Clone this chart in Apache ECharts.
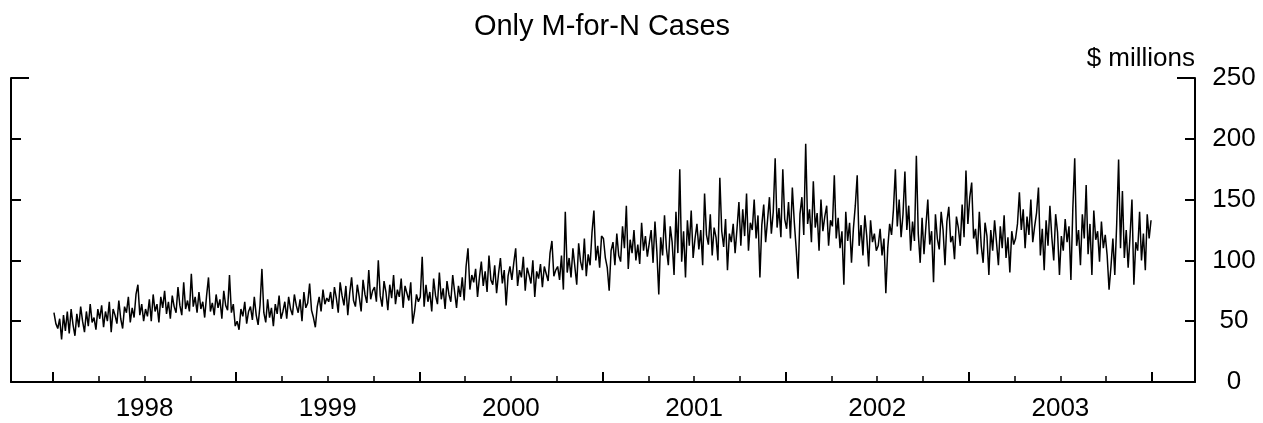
<!DOCTYPE html>
<html>
<head>
<meta charset="utf-8">
<script src="https://cdn.jsdelivr.net/npm/echarts@6/dist/echarts.min.js"></script>
<style>
    html, body { margin: 0; padding: 0; background: #fff; }
    #main { width: 1263px; height: 423px; }
</style>
</head>
<body>
<div id="main"></div>
<script>
// values, 8 per month (24 per quarter)
const v1998 = [
    57, 48, 44, 52, 35, 55, 42, 58, 40, 60, 47, 38, 56, 45, 62, 50, 41, 58, 46, 64, 49, 53, 43, 60,
    52, 63, 45, 58, 50, 66, 41, 60, 55, 48, 67, 52, 44, 62, 57, 70, 49, 61, 53, 72, 80, 55, 64, 50,
    60, 54, 68, 50, 72, 58, 64, 49, 70, 61, 75, 56, 66, 52, 71, 62, 57, 78, 63, 55, 82, 60, 67, 58,
    89, 62, 70, 57, 74, 60, 66, 53, 71, 86, 58, 65, 55, 72, 61, 68, 52, 75, 63, 59, 88, 57, 64, 46
]
const v1999 = [
    50, 43, 60, 54, 66, 48, 58, 62, 51, 70, 55, 47, 63, 93, 57, 49, 68, 53, 61, 46, 64, 56, 71, 52,
    58, 66, 52, 70, 60, 55, 72, 63, 57, 68, 50, 74, 61, 65, 81, 59, 53, 45, 62, 70, 58, 76, 64, 69,
    66, 74, 60, 78, 69, 57, 82, 71, 63, 79, 55, 73, 86, 67, 62, 80, 70, 58, 84, 72, 65, 92, 68, 75,
    78, 66, 100, 71, 62, 83, 74, 59, 80, 69, 88, 64, 76, 70, 85, 61, 79, 73, 67, 82, 48, 58, 72, 66
]
const v2000 = [
    70, 103, 62, 80, 66, 74, 58, 85, 71, 64, 90, 68, 77, 60, 83, 72, 66, 88, 74, 61, 79, 70, 86, 67,
    95, 110, 76, 88, 82, 93, 70, 86, 99, 79, 91, 74, 104, 84, 80, 96, 73, 89, 102, 81, 92, 63, 87, 95,
    84, 98, 110, 79, 92, 86, 103, 75, 94, 88, 81, 100, 70, 91, 85, 97, 78, 95, 89, 83, 106, 116, 87, 92,
    95, 84, 104, 76, 140, 90, 102, 86, 110, 95, 80, 114, 99, 92, 118, 87, 105, 96, 123, 141, 100, 112, 94, 120
]
const v2001 = [
    118, 102, 94, 75, 108, 115, 96, 122, 104, 99, 128, 110, 145, 93, 117, 106, 125, 100, 113, 97, 131, 108, 120, 103,
    114, 125, 98, 132, 107, 72, 119, 104, 137, 110, 96, 128, 115, 88, 140, 106, 175, 99, 124, 86, 133, 112, 141, 102,
    118, 130, 109, 125, 96, 155, 121, 113, 138, 104, 127, 119, 100, 168, 124, 111, 134, 92, 122, 115, 130, 106, 126, 148,
    112, 142, 120, 155, 108, 131, 125, 150, 118, 137, 86, 129, 146, 115, 133, 152, 122, 140, 184, 127, 143, 119, 175, 134
]
const v2002 = [
    126, 148, 118, 160, 132, 110, 85, 138, 152, 121, 196, 130, 142, 115, 165, 127, 139, 108, 150, 124, 136, 145, 112, 133,
    128, 170, 118, 135, 110, 124, 80, 140, 116, 131, 98, 126, 145, 170, 112, 129, 104, 137, 120, 95, 133, 115, 122, 108,
    112, 126, 104, 118, 73, 110, 130, 121, 142, 175, 128, 150, 119, 138, 173, 125, 145, 108, 132, 116, 186, 122, 98, 135,
    105, 128, 150, 113, 124, 82, 138, 118, 109, 140, 125, 96, 132, 144, 115, 120, 101, 136, 127, 112, 146, 119, 174, 130
]
const v2003 = [
    152, 164, 118, 126, 105, 140, 112, 98, 131, 120, 88, 125, 108, 133, 115, 96, 128, 110, 137, 102, 119, 90, 124, 113,
    118, 130, 156, 125, 142, 110, 136, 121, 150, 115, 128, 139, 160, 104, 126, 92, 133, 112, 145, 119, 100, 138, 123, 88,
    120, 108, 134, 115, 128, 84, 142, 184, 112, 125, 96, 138, 118, 162, 105, 130, 88, 141, 117, 124, 99, 132, 110, 121,
    104, 76, 95, 118, 88, 130, 183, 110, 157, 102, 125, 94, 120, 150, 80, 115, 108, 140, 100, 122, 92, 138, 118, 133
]

const years = [1998, 1999, 2000, 2001, 2002, 2003]
const yearTicks = [1998, 1999, 2000, 2001, 2002, 2003, 2004]
const yTicks = [0, 50, 100, 150, 200, 250]

const title = 'Only M-for-N Cases'
const unitLabel = '$ millions'

function buildData() {
    let all = [v1998, v1999, v2000, v2001, v2002, v2003]
    let out = []
    all.forEach((arr, k) => {
        arr.forEach((v, i) => {
            out.push([years[k] + (i + 0.5) / arr.length, v])
        })
    })
    return out
}

const FONT = 'Liberation Sans, Arial, sans-serif'
const xMin = 1997.7707
const xMax = 2004.2348

let quarterTicks = []
years.forEach(y => { quarterTicks.push(y + 0.25, y + 0.5, y + 0.75) })
let labelPos = years.map(y => y + 0.5)

function renderChart() {
    var chartDom = document.getElementById('main')
    var myChart = echarts.init(chartDom, null, { renderer: 'canvas' })
    var option = {
        animation: false,
        backgroundColor: '#fff',
        grid: { left: 11, right: 68, top: 78, bottom: 41 },
        graphic: [
            {
                type: 'text', x: 602, y: 27,
                style: { text: title, fill: '#000', font: '29px ' + FONT, align: 'center', verticalAlign: 'middle' }
            },
            {
                type: 'text', x: 1195, y: 59,
                style: { text: unitLabel, fill: '#000', font: '26px ' + FONT, align: 'right', verticalAlign: 'middle' }
            }
        ],
        xAxis: [
            {
                type: 'value', min: xMin, max: xMax, position: 'bottom',
                axisLine: { show: true, lineStyle: { color: '#000', width: 2 } },
                axisTick: { show: true, inside: true, length: 10, customValues: yearTicks, lineStyle: { color: '#000', width: 2 } },
                axisLabel: {
                    show: true, customValues: labelPos, margin: 14,
                    formatter: v => String(Math.floor(v)),
                    color: '#000', fontSize: 26, fontFamily: FONT
                },
                splitLine: { show: false }
            },
            {
                type: 'value', min: xMin, max: xMax, position: 'bottom',
                axisLine: { show: false },
                axisTick: { show: true, inside: true, length: 6, customValues: quarterTicks, lineStyle: { color: '#000', width: 1.5 } },
                axisLabel: { show: false },
                splitLine: { show: false }
            }
        ],
        yAxis: [
            {
                type: 'value', min: 0, max: 250, interval: 50, position: 'right',
                axisLine: { show: true, lineStyle: { color: '#000', width: 2 } },
                axisTick: { show: true, inside: true, length: 10, customValues: [50, 100, 150, 200], lineStyle: { color: '#000', width: 2 } },
                axisLabel: {
                    show: true, customValues: yTicks, align: 'center', margin: 39,
                    color: '#000', fontSize: 26, fontFamily: FONT
                },
                splitLine: { show: false }
            },
            {
                type: 'value', min: 0, max: 250, interval: 50, position: 'left',
                axisLine: { show: true, lineStyle: { color: '#000', width: 2 } },
                axisTick: { show: true, inside: true, length: 10, customValues: [50, 100, 150, 200], lineStyle: { color: '#000', width: 2 } },
                axisLabel: { show: false },
                splitLine: { show: false }
            },
            {
                type: 'value', min: 0, max: 250, position: 'right',
                axisLine: { show: false },
                axisTick: { show: true, inside: true, length: 18, customValues: [250], lineStyle: { color: '#000', width: 2 } },
                axisLabel: { show: false },
                splitLine: { show: false }
            },
            {
                type: 'value', min: 0, max: 250, position: 'left',
                axisLine: { show: false },
                axisTick: { show: true, inside: true, length: 18, customValues: [250], lineStyle: { color: '#000', width: 2 } },
                axisLabel: { show: false },
                splitLine: { show: false }
            }
        ],
        series: [
            {
                type: 'line',
                data: buildData(),
                xAxisIndex: 0,
                yAxisIndex: 0,
                showSymbol: false,
                symbol: 'none',
                lineStyle: { color: '#000', width: 1.5 }
            }
        ]
    }
    myChart.setOption(option)
}
renderChart()
</script>
</body>
</html>
